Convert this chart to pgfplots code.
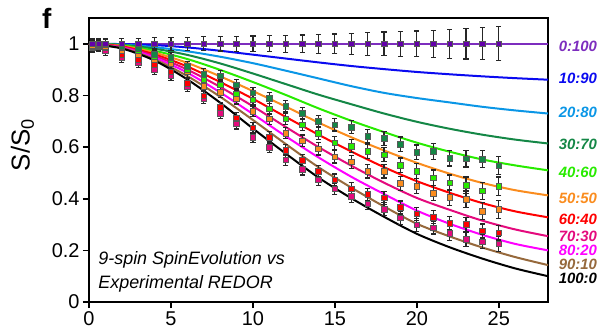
\documentclass[border=0pt]{standalone}
\usepackage{pgfplots}
\pgfplotsset{compat=1.18}
\usepackage{fontspec}
\setmainfont{Liberation Sans}
\definecolor{cpurple}{RGB}{125,45,190}
\definecolor{mpurple}{RGB}{100,0,170}
\definecolor{cblue}{RGB}{10,10,240}
\definecolor{clblue}{RGB}{10,150,230}
\definecolor{cdgreen}{RGB}{20,135,70}
\definecolor{clime}{RGB}{40,235,0}
\definecolor{corange}{RGB}{250,140,30}
\definecolor{cred}{RGB}{255,0,0}
\definecolor{cdpink}{RGB}{228,10,125}
\definecolor{cmag}{RGB}{255,0,255}
\definecolor{cbrown}{RGB}{150,105,60}
\begin{document}
\begin{tikzpicture}
\path[use as bounding box] (-89bp,-29bp) rectangle (519bp,302bp);
\begin{axis}[
  scale only axis, width=459bp, height=284bp,
  at={(0,0)}, anchor=south west,
  xmin=0, xmax=28, ymin=0, ymax=1.1,
  xtick={0,5,10,15,20,25},
  ytick={0,0.2,0.4,0.6,0.8,1},
  yticklabels={0,0.2,0.4,0.6,0.8,1},
  tick pos=left,
  tick align=outside,
  major tick length=6bp,
  axis line style={line width=2.2bp},
  every tick/.style={line width=1.6bp, black},
  tick label style={font=\fontsize{20}{22}\selectfont},
  /pgf/number format/assume math mode=true,
  clip=false,
]
% simulated curves
\addplot[smooth, line width=2bp, cpurple] coordinates {(0,1)(28,1)};
\addplot[smooth, line width=2bp, cblue] coordinates {(0,1)(2,0.999)(4,0.995)(6,0.986)(8,0.973)(10,0.958)(12,0.943)(14,0.928)(16,0.914)(18,0.902)(20,0.891)(22,0.882)(24,0.874)(26,0.867)(28,0.861)};
\addplot[smooth, line width=2bp, clblue] coordinates {(0,1)(2,0.997)(4,0.987)(6,0.971)(8,0.95)(10,0.925)(12,0.896)(14,0.866)(16,0.836)(18,0.81)(20,0.79)(22,0.773)(24,0.756)(26,0.742)(28,0.73)};
\addplot[smooth, line width=2bp, cdgreen] coordinates {(0,1)(2,0.996)(4,0.981)(6,0.957)(8,0.924)(10,0.885)(12,0.844)(14,0.803)(16,0.766)(18,0.73)(20,0.698)(22,0.671)(24,0.648)(26,0.629)(28,0.614)};
\addplot[smooth, line width=2bp, clime] coordinates {(0,1)(2,0.994)(4,0.973)(6,0.941)(8,0.899)(10,0.852)(12,0.802)(14,0.75)(16,0.702)(18,0.658)(20,0.617)(22,0.582)(24,0.552)(26,0.529)(28,0.51)};
\addplot[smooth, line width=2bp, corange] coordinates {(0,1)(2,0.992)(4,0.966)(6,0.926)(8,0.874)(10,0.817)(12,0.757)(14,0.695)(16,0.638)(18,0.587)(20,0.539)(22,0.497)(24,0.461)(26,0.433)(28,0.413)};
\addplot[smooth, line width=2bp, cred] coordinates {(0,1)(2,0.99)(4,0.959)(6,0.912)(8,0.852)(10,0.787)(12,0.717)(14,0.648)(16,0.583)(18,0.522)(20,0.468)(22,0.423)(24,0.383)(26,0.351)(28,0.328)};
\addplot[smooth, line width=2bp, cdpink] coordinates {(0,1)(2,0.988)(4,0.953)(6,0.9)(8,0.833)(10,0.758)(12,0.678)(14,0.6)(16,0.528)(18,0.462)(20,0.403)(22,0.357)(24,0.315)(26,0.281)(28,0.255)};
\addplot[smooth, line width=2bp, cmag] coordinates {(0,1)(2,0.986)(4,0.947)(6,0.888)(8,0.812)(10,0.728)(12,0.642)(14,0.56)(16,0.485)(18,0.418)(20,0.354)(22,0.303)(24,0.26)(26,0.225)(28,0.2)};
\addplot[smooth, line width=2bp, cbrown] coordinates {(0,1)(2,0.984)(4,0.94)(6,0.875)(8,0.795)(10,0.705)(12,0.612)(14,0.522)(16,0.443)(18,0.37)(20,0.303)(22,0.254)(24,0.211)(26,0.174)(28,0.143)};
\addplot[smooth, line width=2bp, black] coordinates {(0,1)(2,0.982)(4,0.935)(6,0.862)(8,0.772)(10,0.672)(12,0.575)(14,0.482)(16,0.402)(18,0.33)(20,0.264)(22,0.212)(24,0.168)(26,0.13)(28,0.1)};
% experimental data
\pgfplotsset{expt/.style={only marks, mark=square*, mark size=2.8bp,
  mark options={draw=black!65, line width=0.6bp, fill=#1},
  error bars/.cd, y dir=both, y explicit,
  error bar style={line width=1.2bp, black!85},
  error mark options={rotate=90, mark size=2.6bp, line width=1.2bp, black!85}}}
\addplot[expt=cdpink] table[x=x, y=y, y error=e] {
x y e
0.2 0.985 0.02
0.6 0.99 0.02
1 0.976 0.02
2 0.947 0.02
3 0.928 0.02
4 0.90 0.02
5 0.879 0.02
6 0.835 0.02
7 0.789 0.02
8 0.731 0.02
9 0.690 0.02
10 0.638 0.02
11 0.600 0.022
12 0.551 0.022
13 0.514 0.022
14 0.474 0.022
15 0.438 0.022
16 0.409 0.024
17 0.381 0.024
18 0.360 0.024
19 0.326 0.025
20 0.299 0.025
21 0.288 0.025
22 0.265 0.026
23 0.242 0.026
24 0.233 0.027
25 0.225 0.028
};
\addplot[expt=cred] table[x=x, y=y, y error=e] {
x y e
0.2 0.99 0.02
0.6 0.99 0.02
1 0.985 0.02
2 0.96 0.02
3 0.94 0.02
4 0.92 0.02
5 0.891 0.02
6 0.847 0.02
7 0.799 0.02
8 0.754 0.02
9 0.713 0.02
10 0.674 0.02
11 0.638 0.022
12 0.588 0.022
13 0.548 0.022
14 0.507 0.022
15 0.474 0.022
16 0.439 0.024
17 0.416 0.024
18 0.403 0.024
19 0.366 0.025
20 0.342 0.025
21 0.329 0.025
22 0.305 0.026
23 0.300 0.026
24 0.275 0.027
25 0.268 0.028
};
\addplot[expt=corange] table[x=x, y=y, y error=e] {
x y e
0.2 0.995 0.02
0.6 0.995 0.02
1 0.99 0.02
2 0.975 0.02
3 0.958 0.02
4 0.94 0.02
5 0.925 0.02
6 0.891 0.02
7 0.835 0.02
8 0.812 0.02
9 0.787 0.02
10 0.739 0.02
11 0.709 0.022
12 0.654 0.022
13 0.625 0.022
14 0.593 0.024
15 0.562 0.024
16 0.543 0.025
17 0.506 0.026
18 0.507 0.027
19 0.459 0.028
20 0.449 0.028
21 0.422 0.03
22 0.405 0.03
23 0.398 0.032
24 0.351 0.033
25 0.358 0.035
};
\addplot[expt=clime] table[x=x, y=y, y error=e] {
x y e
0.2 1.0 0.02
0.6 0.998 0.02
1 0.998 0.02
2 0.985 0.02
3 0.975 0.02
4 0.95 0.02
5 0.938 0.02
6 0.902 0.02
7 0.861 0.02
8 0.841 0.02
9 0.806 0.02
10 0.783 0.02
11 0.748 0.022
12 0.709 0.022
13 0.687 0.022
14 0.654 0.024
15 0.616 0.024
16 0.604 0.025
17 0.583 0.026
18 0.570 0.027
19 0.530 0.028
20 0.507 0.028
21 0.481 0.03
22 0.462 0.03
23 0.452 0.032
24 0.430 0.033
25 0.449 0.035
};
\addplot[expt=cdgreen] table[x=x, y=y, y error=e] {
x y e
0.2 1.0 0.02
0.6 1.0 0.02
1 1.0 0.02
2 0.99 0.02
3 0.98 0.02
4 0.96 0.02
5 0.947 0.02
6 0.913 0.02
7 0.883 0.02
8 0.876 0.02
9 0.841 0.02
10 0.810 0.02
11 0.790 0.022
12 0.758 0.022
13 0.731 0.022
14 0.699 0.024
15 0.686 0.024
16 0.677 0.025
17 0.642 0.026
18 0.634 0.027
19 0.611 0.028
20 0.580 0.028
21 0.583 0.03
22 0.557 0.03
23 0.555 0.032
24 0.553 0.033
25 0.528 0.035
};
\addplot[expt=mpurple] table[x=x, y=y, y error=e] {
x y e
0.2 1.0 0.02
0.6 1.0 0.02
1 1.0 0.02
2 1.0 0.022
3 1.0 0.022
4 1.0 0.024
5 1.0 0.025
6 1.0 0.026
7 1.0 0.027
8 1.0 0.028
9 1.0 0.029
10 1.0 0.03
11 1.0 0.031
12 1.0 0.033
13 1.0 0.034
14 1.0 0.036
15 1.0 0.038
16 1.0 0.041
17 1.0 0.044
18 1.0 0.046
19 1.0 0.048
20 1.0 0.05
21 1.0 0.053
22 1.0 0.056
23 1.0 0.059
24 1.0 0.062
25 1.0 0.066
};
% annotation
\node[anchor=south west, align=left, font=\fontsize{18}{24}\selectfont\itshape, inner sep=0pt]
  at (rel axis cs:0.02,0.035) {9-spin SpinEvolution vs\\Experimental REDOR};
% right labels
\begin{scope}[every node/.style={anchor=east, inner sep=0pt, font=\fontsize{15}{16}\selectfont\bfseries\itshape}]
\node[text=cpurple] at (axis cs:31.0,0.992) {0:100};
\node[text=cblue] at (axis cs:31.0,0.865) {10:90};
\node[text=clblue] at (axis cs:31.0,0.734) {20:80};
\node[text=cdgreen] at (axis cs:31.0,0.610) {30:70};
\node[text=clime] at (axis cs:31.0,0.502) {40:60};
\node[text=corange] at (axis cs:31.0,0.402) {50:50};
\node[text=cred] at (axis cs:31.0,0.320) {60:40};
\node[text=cdpink] at (axis cs:31.0,0.255) {70:30};
\node[text=cmag] at (axis cs:31.0,0.201) {80:20};
\node[text=cbrown] at (axis cs:31.0,0.147) {90:10};
\node[text=black] at (axis cs:31.0,0.093) {100:0};
\end{scope}
% y label and panel letter
\node[rotate=90, font=\fontsize{26}{28}\selectfont] at (rel axis cs:-0.145,0.553) {S/S\textsubscript{0}};
\node[font=\fontsize{28}{30}\selectfont\bfseries] at (rel axis cs:-0.092,1.0) {f};
\end{axis}
\end{tikzpicture}
\end{document}
